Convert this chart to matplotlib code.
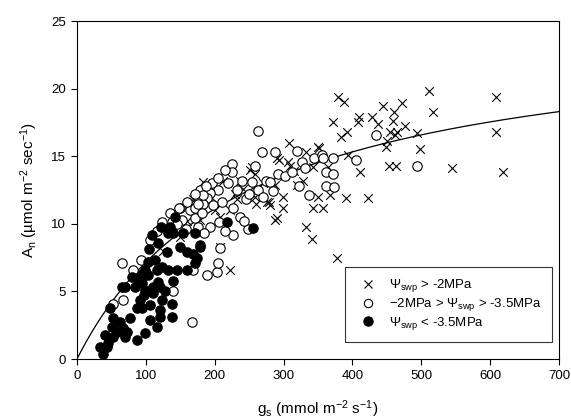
import matplotlib
matplotlib.use("Agg")
import matplotlib.pyplot as plt
import numpy as np
from matplotlib.lines import Line2D

plt.rcParams['font.family'] = ['Liberation Sans', 'DejaVu Sans']
plt.rcParams['mathtext.fontset'] = 'custom'
plt.rcParams['mathtext.rm'] = 'Liberation Sans'
plt.rcParams['mathtext.it'] = 'Liberation Sans:italic'

# ---- data: Psi_swp > -2 MPa (crosses) ----
cross_gs = [379, 388, 511, 608, 444, 472, 460, 517, 372, 410, 428, 408, 437, 459,
            392, 383, 476, 455, 465, 462, 494, 608, 450, 449, 498, 453, 463, 545,
            619, 394, 411, 352, 308, 350, 290, 293, 309, 343, 365, 328, 288, 280,
            299, 299, 290, 350, 367, 343, 357, 391, 423, 333, 341, 378, 332, 254,
            183, 212, 164, 241, 258, 279, 222, 208, 251, 258, 237, 260, 276, 288,
            232, 222, 208, 168, 179, 139, 150, 125, 160, 195, 200, 230, 270, 300,
            315, 320, 306]
cross_an = [19.4, 19.0, 19.8, 19.4, 18.7, 18.9, 18.3, 18.3, 17.5, 17.9, 17.9, 17.5,
            17.4, 17.6, 16.8, 16.4, 17.2, 16.8, 16.8, 16.6, 16.7, 16.8, 16.1, 15.7,
            15.5, 14.3, 14.3, 14.1, 13.8, 15.1, 13.8, 15.6, 16.0, 15.7, 14.9, 14.7,
            14.3, 14.2, 14.2, 13.2, 12.9, 11.4, 12.0, 11.2, 10.4, 12.0, 12.1, 11.2,
            11.2, 11.9, 11.9, 9.8, 8.9, 7.5, 15.3, 14.2, 13.1, 13.2, 11.5, 12.6,
            12.0, 11.6, 6.6, 8.3, 14.0, 13.7, 13.2, 11.5, 11.6, 10.3, 11.8, 11.0,
            10.5, 11.8, 10.3, 9.8, 9.0, 8.0, 10.2, 12.0, 11.0, 12.2, 13.0, 13.5,
            13.9, 12.9, 14.6]

# ---- data: -2 MPa > Psi_swp > -3.5 MPa (open circles) ----
open_gs = [263, 269, 288, 319, 327, 344, 225, 225, 259, 240, 254, 274, 292, 302,
           312, 331, 263, 322, 337, 179, 196, 205, 219, 193, 189, 164, 171, 183,
           198, 211, 227, 237, 150, 152, 171, 182, 193, 206, 227, 131, 116, 106,
           93, 81, 65, 189, 203, 205, 208, 248, 168, 67, 52, 139, 167, 356, 357,
           372, 405, 434, 362, 372, 362, 373, 280, 494, 123, 138, 148, 176, 183,
           135, 145, 158, 175, 185, 215, 243, 160, 172, 188, 205, 215, 232, 245,
           250, 270, 285]
open_an = [16.9, 15.3, 15.3, 15.4, 14.6, 14.9, 14.4, 13.8, 14.3, 13.2, 13.1, 13.2,
           13.7, 13.5, 13.8, 14.1, 12.5, 12.8, 12.1, 12.5, 13.0, 12.5, 13.0, 12.3,
           11.9, 11.0, 11.2, 11.5, 11.4, 11.6, 11.2, 10.5, 11.2, 10.3, 10.4, 10.8,
           9.8, 10.1, 9.2, 9.7, 9.5, 8.8, 7.3, 6.6, 7.1, 6.2, 6.4, 7.1, 8.2, 9.6,
           6.6, 4.4, 4.1, 5.0, 2.7, 15.1, 14.9, 14.9, 14.7, 16.6, 13.8, 13.7, 12.8,
           12.7, 13.1, 14.3, 10.1, 10.1, 11.2, 11.5, 12.1, 10.8, 10.0, 9.6, 9.8,
           9.3, 9.5, 10.2, 11.6, 12.2, 12.8, 13.4, 14.0, 12.5, 11.8, 12.2, 12.0,
           12.4]

# ---- data: Psi_swp < -3.5 MPa (filled circles) ----
fill_gs = [142, 122, 132, 139, 109, 118, 105, 131, 150, 160, 169, 171, 179, 160,
           171, 174, 145, 132, 123, 113, 116, 103, 99, 103, 87, 80, 94, 84, 99,
           110, 121, 110, 65, 70, 91, 87, 94, 106, 121, 138, 138, 121, 106, 116,
           99, 87, 48, 52, 51, 62, 67, 58, 73, 77, 41, 52, 70, 33, 43, 38, 45,
           135, 154, 218, 256, 179, 94, 117, 128, 140, 124, 98]
fill_an = [10.5, 9.8, 9.3, 9.3, 9.2, 8.6, 8.1, 7.9, 8.3, 7.9, 7.8, 9.3, 8.4, 6.6,
           7.1, 7.5, 6.6, 6.6, 6.8, 7.3, 6.6, 7.2, 6.6, 6.2, 6.0, 6.1, 5.6, 5.3,
           5.1, 5.3, 5.3, 4.9, 5.3, 5.3, 4.4, 3.8, 3.8, 4.0, 3.6, 4.1, 3.1, 3.1,
           2.9, 2.4, 1.9, 1.4, 3.8, 3.0, 2.4, 2.7, 2.3, 2.0, 2.0, 3.0, 1.8, 1.6,
           1.6, 0.9, 0.9, 0.4, 1.2, 9.8, 9.3, 10.1, 9.7, 8.3, 6.3, 5.7, 5.0, 5.8,
           4.4, 4.7]

# fitted hyperbola parameters
fit_amax = 24.7
fit_k = 245.0

x_ticks = [0, 100, 200, 300, 400, 500, 600, 700]
y_ticks = [0, 5, 10, 15, 20, 25]

fig = plt.figure(figsize=(5.71, 4.19), dpi=100)
ax = fig.add_axes([77/571, 1-359/419, (559-77)/571, (359-21)/419])

ax.scatter(cross_gs, cross_an, marker='x', s=38, c='black', linewidths=0.8, zorder=3)
ax.scatter(open_gs, open_an, marker='o', s=46, facecolors='white', edgecolors='black',
           linewidths=0.8, zorder=3)
ax.scatter(fill_gs, fill_an, marker='o', s=46, facecolors='black', edgecolors='black',
           linewidths=0.8, zorder=4)

gx = np.linspace(0, 700, 300)
ax.plot(gx, fit_amax * gx / (fit_k + gx), color='black', lw=0.9, zorder=2)

ax.set_xlim(0, 700)
ax.set_ylim(0, 25)
ax.set_xticks(x_ticks)
ax.set_yticks(y_ticks)
ax.tick_params(direction='out', length=4, width=0.8, labelsize=9.5,
               top=False, right=False, pad=4)
for sp in ax.spines.values():
    sp.set_linewidth(0.8)

ax.set_xlabel(r'g$_{\rm s}$ (mmol m$^{-2}$ s$^{-1}$)', fontsize=11, labelpad=12)
ax.set_ylabel(r'A$_{\rm n}$ (µmol m$^{-2}$ sec$^{-1}$)', fontsize=11, labelpad=8)

handles = [
    Line2D([], [], marker='x', ls='none', color='black', markersize=6, markeredgewidth=0.8),
    Line2D([], [], marker='o', ls='none', markerfacecolor='white', markeredgecolor='black',
           markersize=6, markeredgewidth=0.8),
    Line2D([], [], marker='o', ls='none', markerfacecolor='black', markeredgecolor='black',
           markersize=6.5),
]
labels = [r'$\Psi_{\rm swp}$ > -2MPa',
          r'$-$2MPa > $\Psi_{\rm swp}$ > -3.5MPa',
          r'$\Psi_{\rm swp}$ < -3.5MPa']
leg = ax.legend(handles, labels, loc='lower right', bbox_to_anchor=(0.985, 0.05),
                fontsize=9.5, frameon=True, fancybox=False, edgecolor='black',
                borderpad=0.75, labelspacing=0.15, handletextpad=0.6, borderaxespad=0)
leg.get_frame().set_linewidth(0.8)

fig.savefig('out.png', dpi=100)
